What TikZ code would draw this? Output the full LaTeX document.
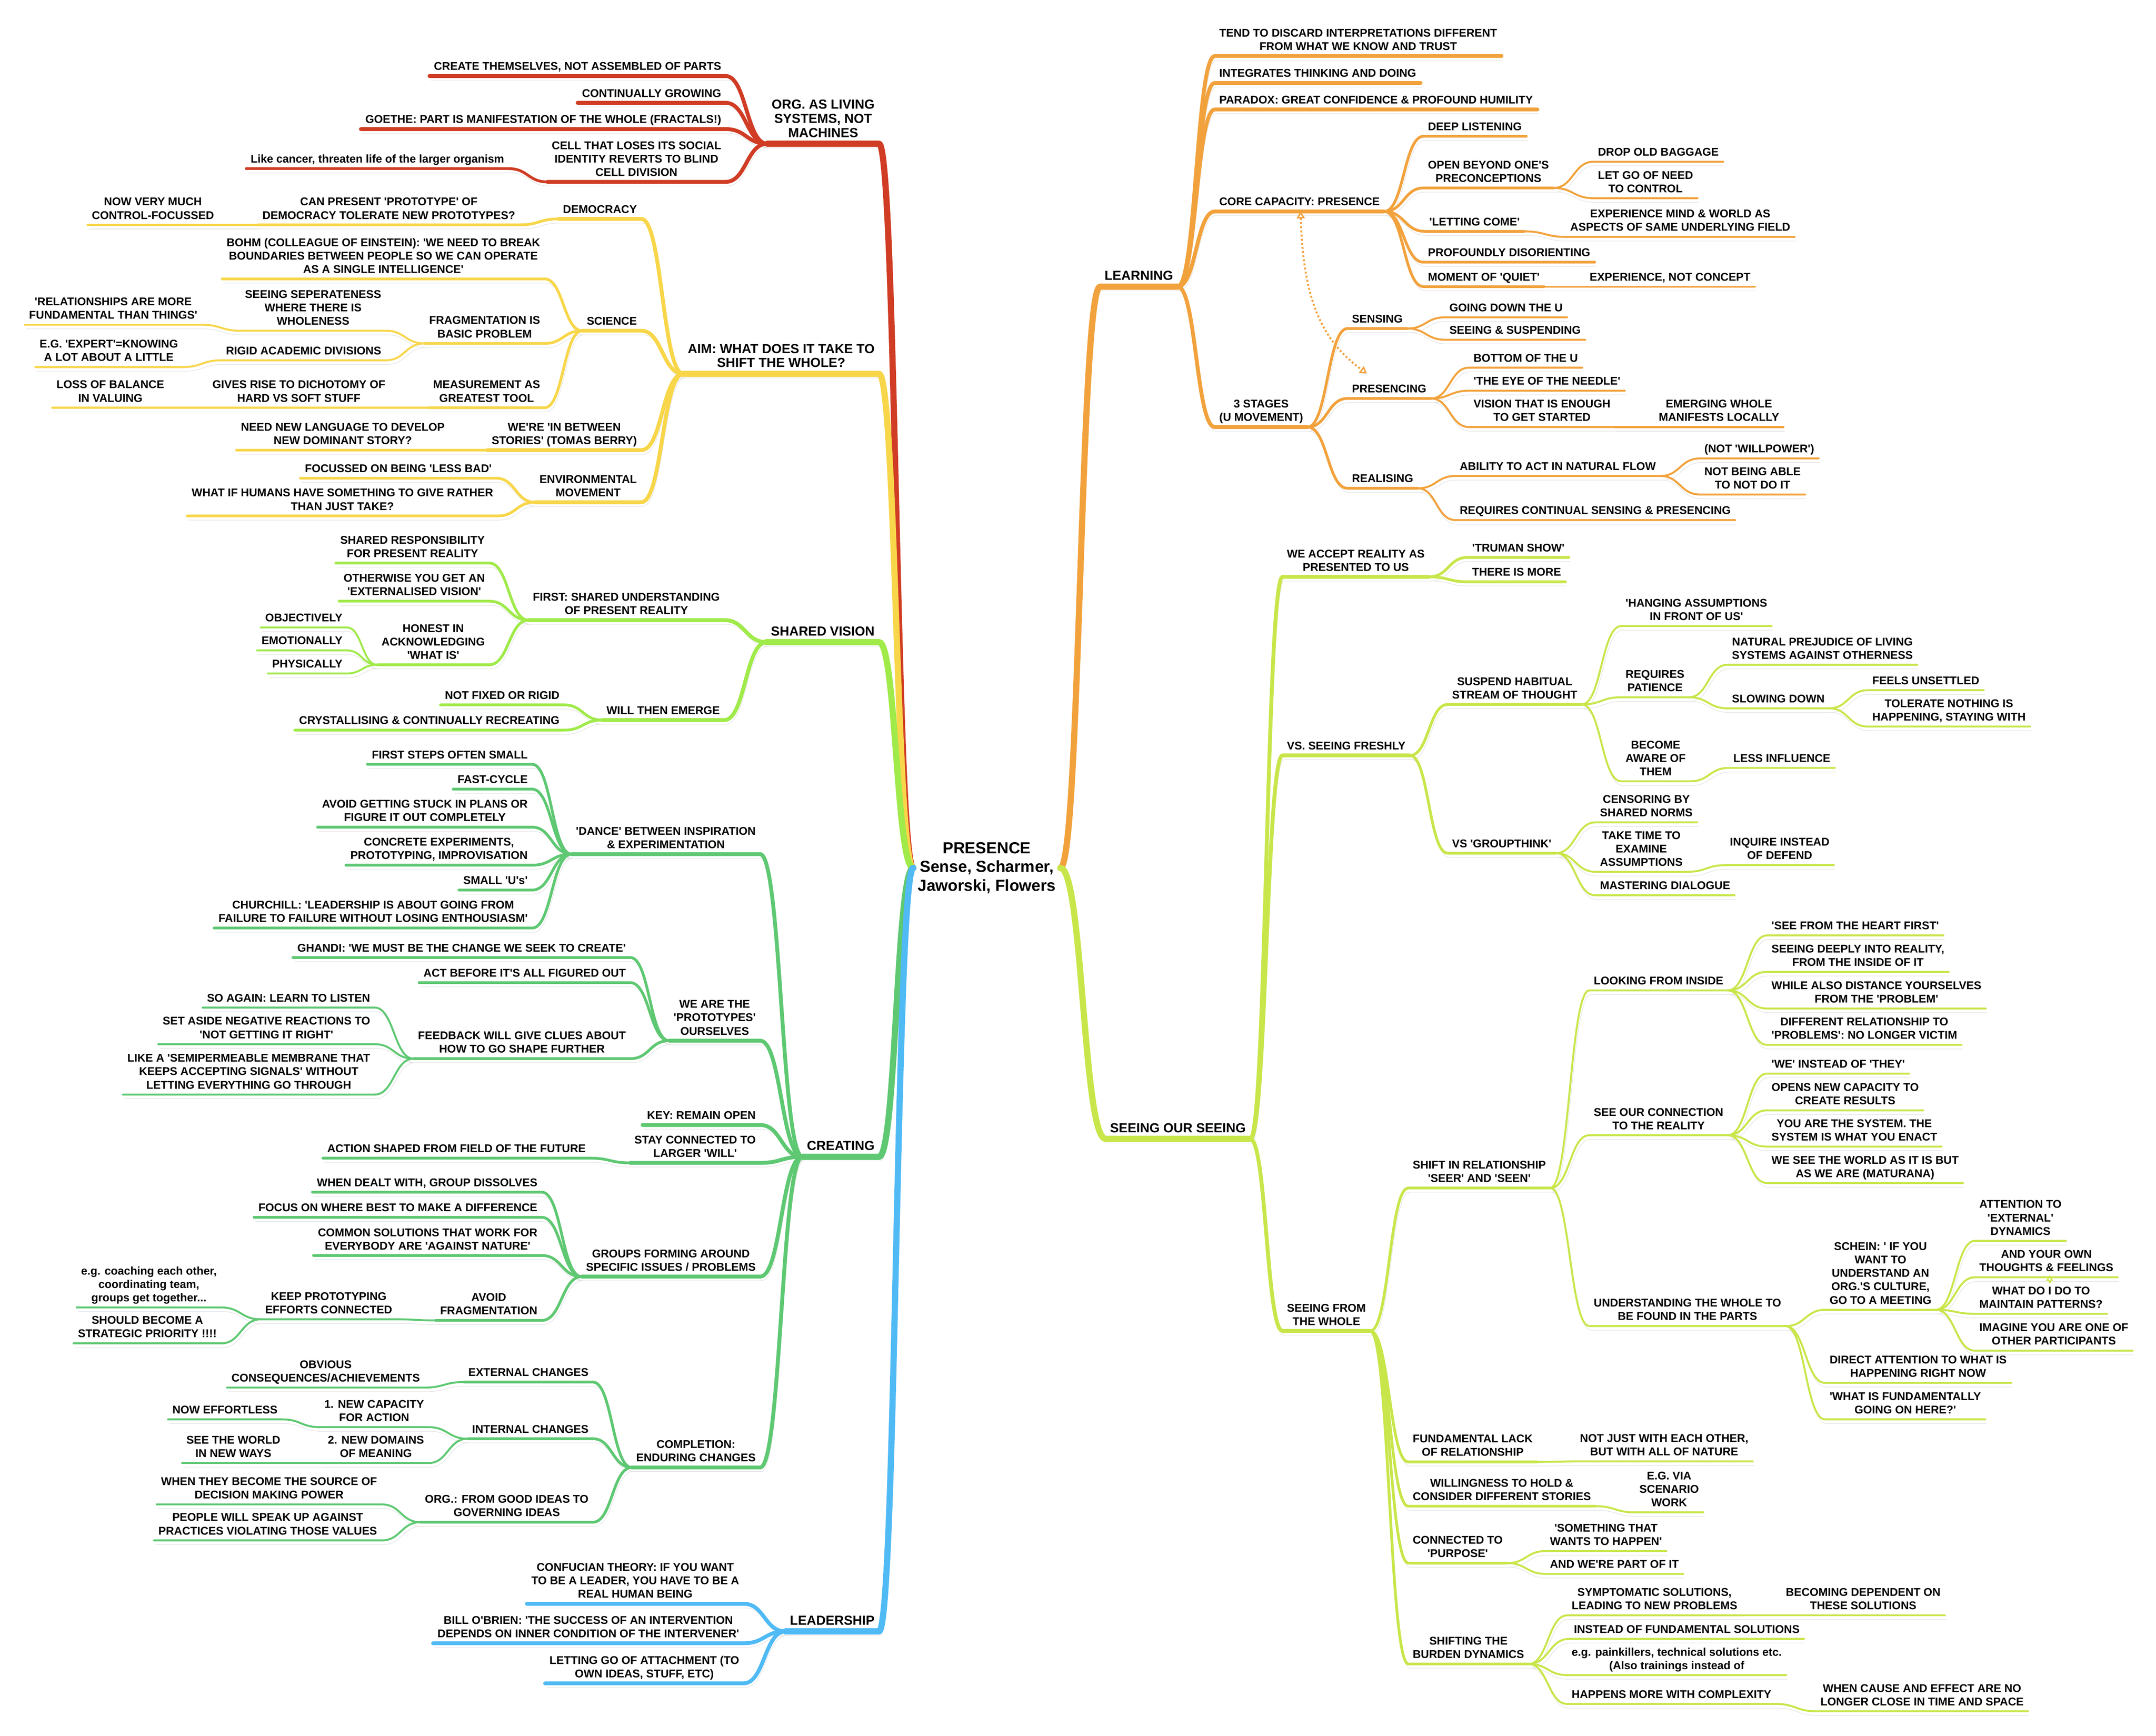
\documentclass[tikz,border=0pt]{standalone}
\usepackage{fontspec}
\usepackage{tikz}
\usetikzlibrary{calc}
\usetikzlibrary{arrows.meta}
\newfontfamily\mmsans{Liberation Sans}
\newcommand{\mmtext}{\mmsans\bfseries\fontsize{8.15}{9.7}\selectfont}
\newcommand{\mmtitle}{\mmsans\bfseries\fontsize{9.5}{10.2}\selectfont}
\newcommand{\mmcenter}{\mmsans\bfseries\fontsize{11.6}{13.5}\selectfont}
\definecolor{cRed}{RGB}{208,60,36}
\definecolor{cYel}{RGB}{248,214,74}
\definecolor{cLime}{RGB}{160,234,74}
\definecolor{cGrn}{RGB}{94,200,114}
\definecolor{cBlu}{RGB}{80,186,245}
\definecolor{cOra}{RGB}{242,162,60}
\definecolor{cSee}{RGB}{200,230,74}
\tikzset{
  mm/.style={font=\mmtext, inner xsep=3pt, inner ysep=2.5pt, text depth=1.5pt, align=center},
  rtopic/.style={mm, anchor=south west},
  ltopic/.style={mm, anchor=south east},
  rtitle/.style={rtopic, font=\mmtitle, text depth=2pt},
  ltitle/.style={ltopic, font=\mmtitle, text depth=2pt},
  mmcurve/.style={to path={let \p1=(\tikztostart), \p2=(\tikztotarget) in
    .. controls ({(\x1+\x2)/2},\y1) and ({(\x1+\x2)/2},\y2) .. (\tikztotarget)}},
  link/.style={line cap=round, line join=round,
    preaction={draw=black!10, transform canvas={shift={(1pt,-3pt)}}}},
  trunk/.style={link, line width=4.5pt},
  w1/.style={link, line width=2.8pt},
  w2/.style={link, line width=2pt},
  w3/.style={link, line width=1.4pt},
  relline/.style={line width=1.4pt, dash pattern=on 1.4pt off 1.6pt},
}
\begin{document}
\begin{tikzpicture}[x=1pt,y=-1pt]
\fill[white] (0,0) rectangle (1560,1255.8);
\useasboundingbox (0,0) rectangle (1560,1255.8);

\node[font=\mmcenter, align=center, inner xsep=3pt] (presence) at (714,628) {PRESENCE\\Sense, Scharmer,\\Jaworski, Flowers};

% org as living systems
\node[ltitle] (org) at (636,104) {ORG. AS LIVING\\SYSTEMS, NOT\\MACHINES};
\node[ltopic] (org1) at (525,55) {CREATE THEMSELVES, NOT ASSEMBLED OF PARTS};
\node[ltopic] (org2) at (525,74.4) {CONTINUALLY GROWING};
\node[ltopic] (org3) at (525,93.4) {GOETHE: PART IS MANIFESTATION OF THE WHOLE (FRACTALS!)};
\node[ltopic] (org4) at (525,131.6) {CELL THAT LOSES ITS SOCIAL\\IDENTITY REVERTS TO BLIND\\CELL DIVISION};
\node[ltopic] (org41) at (368,122) {Like cancer, threaten life of the larger organism};
\draw[trunk,cRed] (presence.west) to[mmcurve] (org.south east) -- (org.south west);
\draw[w1,cRed] (org.south west) to[mmcurve] (org1.south east) -- (org1.south west);
\draw[w1,cRed] (org.south west) to[mmcurve] (org2.south east) -- (org2.south west);
\draw[w1,cRed] (org.south west) to[mmcurve] (org3.south east) -- (org3.south west);
\draw[w1,cRed] (org.south west) to[mmcurve] (org4.south east) -- (org4.south west);
\draw[w2,cRed] (org4.south west) to[mmcurve] (org41.south east) -- (org41.south west);

% aim
\node[ltitle] (aim) at (636,270.5) {AIM: WHAT DOES IT TAKE TO\\SHIFT THE WHOLE?};
\node[ltopic] (dem) at (464,158.4) {DEMOCRACY};
\node[ltopic] (dem1) at (376,162.7) {CAN PRESENT 'PROTOTYPE' OF\\DEMOCRACY TOLERATE NEW PROTOTYPES?};
\node[ltopic] (dem11) at (158,162.7) {NOW VERY MUCH\\CONTROL-FOCUSSED};
\node[ltopic] (sci) at (464,239.3) {SCIENCE};
\node[ltopic] (sci1) at (394,201.8) {BOHM (COLLEAGUE OF EINSTEIN): 'WE NEED TO BREAK\\BOUNDARIES BETWEEN PEOPLE SO WE CAN OPERATE\\AS A SINGLE INTELLIGENCE'};
\node[ltopic] (sci2) at (394,248.5) {FRAGMENTATION IS\\BASIC PROBLEM};
\node[ltopic] (sci21) at (279,239.3) {SEEING SEPERATENESS\\WHERE THERE IS\\WHOLENESS};
\node[ltopic] (sci211) at (146,235) {'RELATIONSHIPS ARE MORE\\FUNDAMENTAL THAN THINGS'};
\node[ltopic] (sci22) at (279,260.7) {RIGID ACADEMIC DIVISIONS};
\node[ltopic] (sci221) at (132,265.6) {E.G. 'EXPERT'=KNOWING\\A LOT ABOUT A LITTLE};
\node[ltopic] (sci3) at (394,295) {MEASUREMENT AS\\GREATEST TOOL};
\node[ltopic] (sci31) at (282,295) {GIVES RISE TO DICHOTOMY OF\\HARD VS SOFT STUFF};
\node[ltopic] (sci311) at (122,295) {LOSS OF BALANCE\\IN VALUING};
\node[ltopic] (story) at (464,325.7) {WE'RE 'IN BETWEEN\\STORIES' (TOMAS BERRY)};
\node[ltopic] (story1) at (325,325.7) {NEED NEW LANGUAGE TO DEVELOP\\NEW DOMINANT STORY?};
\node[ltopic] (env) at (464,363.4) {ENVIRONMENTAL\\MOVEMENT};
\node[ltopic] (env1) at (359,346) {FOCUSSED ON BEING 'LESS BAD'};
\node[ltopic] (env2) at (360,373.3) {WHAT IF HUMANS HAVE SOMETHING TO GIVE RATHER\\THAN JUST TAKE?};
\draw[trunk,cYel] (presence.west) to[mmcurve] (aim.south east) -- (aim.south west);
\draw[w1,cYel] (aim.south west) to[mmcurve] (dem.south east) -- (dem.south west);
\draw[w2,cYel] (dem.south west) to[mmcurve] (dem1.south east) -- (dem1.south west);
\draw[w3,cYel] (dem1.south west) to[mmcurve] (dem11.south east) -- (dem11.south west);
\draw[w1,cYel] (aim.south west) to[mmcurve] (sci.south east) -- (sci.south west);
\draw[w2,cYel] (sci.south west) to[mmcurve] (sci1.south east) -- (sci1.south west);
\draw[w2,cYel] (sci.south west) to[mmcurve] (sci2.south east) -- (sci2.south west);
\draw[w3,cYel] (sci2.south west) to[mmcurve] (sci21.south east) -- (sci21.south west);
\draw[w3,cYel] (sci21.south west) to[mmcurve] (sci211.south east) -- (sci211.south west);
\draw[w3,cYel] (sci2.south west) to[mmcurve] (sci22.south east) -- (sci22.south west);
\draw[w3,cYel] (sci22.south west) to[mmcurve] (sci221.south east) -- (sci221.south west);
\draw[w2,cYel] (sci.south west) to[mmcurve] (sci3.south east) -- (sci3.south west);
\draw[w3,cYel] (sci3.south west) to[mmcurve] (sci31.south east) -- (sci31.south west);
\draw[w3,cYel] (sci31.south west) to[mmcurve] (sci311.south east) -- (sci311.south west);
\draw[w1,cYel] (aim.south west) to[mmcurve] (story.south east) -- (story.south west);
\draw[w2,cYel] (story.south west) to[mmcurve] (story1.south east) -- (story1.south west);
\draw[w1,cYel] (aim.south west) to[mmcurve] (env.south east) -- (env.south west);
\draw[w2,cYel] (env.south west) to[mmcurve] (env1.south east) -- (env1.south west);
\draw[w2,cYel] (env.south west) to[mmcurve] (env2.south east) -- (env2.south west);

% shared vision
\node[ltitle] (sv) at (636,464.6) {SHARED VISION};
\node[ltopic] (sv1) at (524,448.7) {FIRST: SHARED UNDERSTANDING\\OF PRESENT REALITY};
\node[ltopic] (sv11) at (354,407.4) {SHARED RESPONSIBILITY\\FOR PRESENT REALITY};
\node[ltopic] (sv12) at (354,435) {OTHERWISE YOU GET AN\\'EXTERNALISED VISION'};
\node[ltopic] (sv13) at (354,481) {HONEST IN\\ACKNOWLEDGING\\'WHAT IS'};
\node[ltopic] (sv131) at (251,454) {OBJECTIVELY};
\node[ltopic] (sv132) at (251,470.6) {EMOTIONALLY};
\node[ltopic] (sv133) at (251,487.3) {PHYSICALLY};
\node[ltopic] (sv2) at (524,521) {WILL THEN EMERGE};
\node[ltopic] (sv21) at (408,510) {NOT FIXED OR RIGID};
\node[ltopic] (sv22) at (408,528.3) {CRYSTALLISING \& CONTINUALLY RECREATING};
\draw[trunk,cLime] (presence.west) to[mmcurve] (sv.south east) -- (sv.south west);
\draw[w1,cLime] (sv.south west) to[mmcurve] (sv1.south east) -- (sv1.south west);
\draw[w2,cLime] (sv1.south west) to[mmcurve] (sv11.south east) -- (sv11.south west);
\draw[w2,cLime] (sv1.south west) to[mmcurve] (sv12.south east) -- (sv12.south west);
\draw[w2,cLime] (sv1.south west) to[mmcurve] (sv13.south east) -- (sv13.south west);
\draw[w3,cLime] (sv13.south west) to[mmcurve] (sv131.south east) -- (sv131.south west);
\draw[w3,cLime] (sv13.south west) to[mmcurve] (sv132.south east) -- (sv132.south west);
\draw[w3,cLime] (sv13.south west) to[mmcurve] (sv133.south east) -- (sv133.south west);
\draw[w1,cLime] (sv.south west) to[mmcurve] (sv2.south east) -- (sv2.south west);
\draw[w2,cLime] (sv2.south west) to[mmcurve] (sv21.south east) -- (sv21.south west);
\draw[w2,cLime] (sv2.south west) to[mmcurve] (sv22.south east) -- (sv22.south west);

% creating
\node[ltitle] (cre) at (636,837) {CREATING};
\node[ltopic] (cre1) at (550,618) {'DANCE' BETWEEN INSPIRATION\\\& EXPERIMENTATION};
\node[ltopic] (cre11) at (385,553) {FIRST STEPS OFTEN SMALL};
\node[ltopic] (cre12) at (385,571) {FAST-CYCLE};
\node[ltopic] (cre13) at (385,598.5) {AVOID GETTING STUCK IN PLANS OR\\FIGURE IT OUT COMPLETELY};
\node[ltopic] (cre14) at (385,626) {CONCRETE EXPERIMENTS,\\PROTOTYPING, IMPROVISATION};
\node[ltopic] (cre15) at (385,644) {SMALL 'U's'};
\node[ltopic] (cre16) at (385,671.5) {CHURCHILL: 'LEADERSHIP IS ABOUT GOING FROM\\FAILURE TO FAILURE WITHOUT LOSING ENTHOUSIASM'};
\node[ltopic] (cre2) at (550,753) {WE ARE THE\\'PROTOTYPES'\\OURSELVES};
\node[ltopic] (cre21) at (456,692.8) {GHANDI: 'WE MUST BE THE CHANGE WE SEEK TO CREATE'};
\node[ltopic] (cre22) at (456,711) {ACT BEFORE IT'S ALL FIGURED OUT};
\node[ltopic] (cre23) at (456,766) {FEEDBACK WILL GIVE CLUES ABOUT\\HOW TO GO SHAPE FURTHER};
\node[ltopic] (cre231) at (271,729) {SO AGAIN: LEARN TO LISTEN};
\node[ltopic] (cre232) at (271,755.5) {SET ASIDE NEGATIVE REACTIONS TO\\'NOT GETTING IT RIGHT'};
\node[ltopic] (cre233) at (271,792) {LIKE A 'SEMIPERMEABLE MEMBRANE THAT\\KEEPS ACCEPTING SIGNALS' WITHOUT\\LETTING EVERYTHING GO THROUGH};
\node[ltopic] (cre3) at (550,814) {KEY: REMAIN OPEN};
\node[ltopic] (cre4) at (550,841.4) {STAY CONNECTED TO\\LARGER 'WILL'};
\node[ltopic] (cre41) at (427,838) {ACTION SHAPED FROM FIELD OF THE FUTURE};
\node[ltopic] (cre5) at (550,923.7) {GROUPS FORMING AROUND\\SPECIFIC ISSUES / PROBLEMS};
\node[ltopic] (cre51) at (392,862.6) {WHEN DEALT WITH, GROUP DISSOLVES};
\node[ltopic] (cre52) at (392,880.8) {FOCUS ON WHERE BEST TO MAKE A DIFFERENCE};
\node[ltopic] (cre53) at (392,908.4) {COMMON SOLUTIONS THAT WORK FOR\\EVERYBODY ARE 'AGAINST NATURE'};
\node[ltopic] (cre54) at (392,955.4) {AVOID\\FRAGMENTATION};
\node[ltopic] (cre541) at (287,954.6) {KEEP PROTOTYPING\\EFFORTS CONNECTED};
\node[ltopic] (cre5411) at (160,946) {e.g. coaching each other,\\coordinating team,\\groups get together...};
\node[ltopic] (cre5412) at (160,972) {SHOULD BECOME A\\STRATEGIC PRIORITY !!!!};
\node[ltopic] (cre6) at (550,1061.8) {COMPLETION:\\ENDURING CHANGES};
\node[ltopic] (cre61) at (429,1000) {EXTERNAL CHANGES};
\node[ltopic] (cre611) at (307,1004) {OBVIOUS\\CONSEQUENCES/ACHIEVEMENTS};
\node[ltopic] (cre62) at (429,1041) {INTERNAL CHANGES};
\node[ltopic] (cre621) at (310,1032.6) {1. NEW CAPACITY\\FOR ACTION};
\node[ltopic] (cre6211) at (204,1027) {NOW EFFORTLESS};
\node[ltopic] (cre622) at (310,1058.6) {2. NEW DOMAINS\\OF MEANING};
\node[ltopic] (cre6221) at (206,1058.6) {SEE THE WORLD\\IN NEW WAYS};
\node[ltopic] (cre63) at (429,1101.4) {ORG.: FROM GOOD IDEAS TO\\GOVERNING IDEAS};
\node[ltopic] (cre631) at (276,1088.5) {WHEN THEY BECOME THE SOURCE OF\\DECISION MAKING POWER};
\node[ltopic] (cre632) at (276,1114.6) {PEOPLE WILL SPEAK UP AGAINST\\PRACTICES VIOLATING THOSE VALUES};
\draw[trunk,cGrn] (presence.west) to[mmcurve] (cre.south east) -- (cre.south west);
\draw[w1,cGrn] (cre.south west) to[mmcurve] (cre1.south east) -- (cre1.south west);
\draw[w2,cGrn] (cre1.south west) to[mmcurve] (cre11.south east) -- (cre11.south west);
\draw[w2,cGrn] (cre1.south west) to[mmcurve] (cre12.south east) -- (cre12.south west);
\draw[w2,cGrn] (cre1.south west) to[mmcurve] (cre13.south east) -- (cre13.south west);
\draw[w2,cGrn] (cre1.south west) to[mmcurve] (cre14.south east) -- (cre14.south west);
\draw[w2,cGrn] (cre1.south west) to[mmcurve] (cre15.south east) -- (cre15.south west);
\draw[w2,cGrn] (cre1.south west) to[mmcurve] (cre16.south east) -- (cre16.south west);
\draw[w1,cGrn] (cre.south west) to[mmcurve] (cre2.south east) -- (cre2.south west);
\draw[w2,cGrn] (cre2.south west) to[mmcurve] (cre21.south east) -- (cre21.south west);
\draw[w2,cGrn] (cre2.south west) to[mmcurve] (cre22.south east) -- (cre22.south west);
\draw[w2,cGrn] (cre2.south west) to[mmcurve] (cre23.south east) -- (cre23.south west);
\draw[w3,cGrn] (cre23.south west) to[mmcurve] (cre231.south east) -- (cre231.south west);
\draw[w3,cGrn] (cre23.south west) to[mmcurve] (cre232.south east) -- (cre232.south west);
\draw[w3,cGrn] (cre23.south west) to[mmcurve] (cre233.south east) -- (cre233.south west);
\draw[w1,cGrn] (cre.south west) to[mmcurve] (cre3.south east) -- (cre3.south west);
\draw[w1,cGrn] (cre.south west) to[mmcurve] (cre4.south east) -- (cre4.south west);
\draw[w2,cGrn] (cre4.south west) to[mmcurve] (cre41.south east) -- (cre41.south west);
\draw[w1,cGrn] (cre.south west) to[mmcurve] (cre5.south east) -- (cre5.south west);
\draw[w2,cGrn] (cre5.south west) to[mmcurve] (cre51.south east) -- (cre51.south west);
\draw[w2,cGrn] (cre5.south west) to[mmcurve] (cre52.south east) -- (cre52.south west);
\draw[w2,cGrn] (cre5.south west) to[mmcurve] (cre53.south east) -- (cre53.south west);
\draw[w2,cGrn] (cre5.south west) to[mmcurve] (cre54.south east) -- (cre54.south west);
\draw[w3,cGrn] (cre54.south west) to[mmcurve] (cre541.south east) -- (cre541.south west);
\draw[w3,cGrn] (cre541.south west) to[mmcurve] (cre5411.south east) -- (cre5411.south west);
\draw[w3,cGrn] (cre541.south west) to[mmcurve] (cre5412.south east) -- (cre5412.south west);
\draw[w1,cGrn] (cre.south west) to[mmcurve] (cre6.south east) -- (cre6.south west);
\draw[w2,cGrn] (cre6.south west) to[mmcurve] (cre61.south east) -- (cre61.south west);
\draw[w3,cGrn] (cre61.south west) to[mmcurve] (cre611.south east) -- (cre611.south west);
\draw[w2,cGrn] (cre6.south west) to[mmcurve] (cre62.south east) -- (cre62.south west);
\draw[w3,cGrn] (cre62.south west) to[mmcurve] (cre621.south east) -- (cre621.south west);
\draw[w3,cGrn] (cre621.south west) to[mmcurve] (cre6211.south east) -- (cre6211.south west);
\draw[w3,cGrn] (cre62.south west) to[mmcurve] (cre622.south east) -- (cre622.south west);
\draw[w3,cGrn] (cre622.south west) to[mmcurve] (cre6221.south east) -- (cre6221.south west);
\draw[w2,cGrn] (cre6.south west) to[mmcurve] (cre63.south east) -- (cre63.south west);
\draw[w3,cGrn] (cre63.south west) to[mmcurve] (cre631.south east) -- (cre631.south west);
\draw[w3,cGrn] (cre63.south west) to[mmcurve] (cre632.south east) -- (cre632.south west);

% leadership
\node[ltitle] (lead) at (636,1180.4) {LEADERSHIP};
\node[ltopic] (lead1) at (538,1160.4) {CONFUCIAN THEORY: IF YOU WANT\\TO BE A LEADER, YOU HAVE TO BE A\\REAL HUMAN BEING};
\node[ltopic] (lead2) at (538,1189) {BILL O'BRIEN: 'THE SUCCESS OF AN INTERVENTION\\DEPENDS ON INNER CONDITION OF THE INTERVENER'};
\node[ltopic] (lead3) at (538,1218) {LETTING GO OF ATTACHMENT (TO\\OWN IDEAS, STUFF, ETC)};
\draw[trunk,cBlu] (presence.west) to[mmcurve] (lead.south east) -- (lead.south west);
\draw[w1,cBlu] (lead.south west) to[mmcurve] (lead1.south east) -- (lead1.south west);
\draw[w1,cBlu] (lead.south west) to[mmcurve] (lead2.south east) -- (lead2.south west);
\draw[w1,cBlu] (lead.south west) to[mmcurve] (lead3.south east) -- (lead3.south west);

% learning
\node[rtitle] (learn) at (796,207.4) {LEARNING};
\node[rtopic] (le1) at (879,40.5) {TEND TO DISCARD INTERPRETATIONS DIFFERENT\\FROM WHAT WE KNOW AND TRUST};
\node[rtopic] (le2) at (879,60) {INTEGRATES THINKING AND DOING};
\node[rtopic] (le3) at (879,79.2) {PARADOX: GREAT CONFIDENCE \& PROFOUND HUMILITY};
\node[rtopic] (le4) at (879,153) {CORE CAPACITY: PRESENCE};
\node[rtopic] (le41) at (1030,98.6) {DEEP LISTENING};
\node[rtopic] (le42) at (1030,136) {OPEN BEYOND ONE'S\\PRECONCEPTIONS};
\node[rtopic] (le421) at (1153,117) {DROP OLD BAGGAGE};
\node[rtopic] (le422) at (1153,143.4) {LET GO OF NEED\\TO CONTROL};
\node[rtopic] (le43) at (1031,167.4) {'LETTING COME'};
\node[rtopic] (le431) at (1133,171.4) {EXPERIENCE MIND \& WORLD AS\\ASPECTS OF SAME UNDERLYING FIELD};
\node[rtopic] (le44) at (1030,189.7) {PROFOUNDLY DISORIENTING};
\node[rtopic] (le45) at (1030,207.4) {MOMENT OF 'QUIET'};
\node[rtopic] (le451) at (1147,207.4) {EXPERIENCE, NOT CONCEPT};
\node[rtopic] (le5) at (879,309) {3 STAGES\\(U MOVEMENT)};
\node[rtopic] (le51) at (975,237.7) {SENSING};
\node[rtopic] (le511) at (1045.5,229.6) {GOING DOWN THE U};
\node[rtopic] (le512) at (1045.5,245.8) {SEEING \& SUSPENDING};
\node[rtopic] (le52) at (975,288.3) {PRESENCING};
\node[rtopic] (le521) at (1063,266) {BOTTOM OF THE U};
\node[rtopic] (le522) at (1063,282.7) {'THE EYE OF THE NEEDLE'};
\node[rtopic] (le523) at (1063,309) {VISION THAT IS ENOUGH\\TO GET STARTED};
\node[rtopic] (le5231) at (1197,309) {EMERGING WHOLE\\MANIFESTS LOCALLY};
\node[rtopic] (le53) at (975,353.3) {REALISING};
\node[rtopic] (le531) at (1053,344.4) {ABILITY TO ACT IN NATURAL FLOW};
\node[rtopic] (le5311) at (1230,331.7) {(NOT 'WILLPOWER')};
\node[rtopic] (le5312) at (1230,357.8) {NOT BEING ABLE\\TO NOT DO IT};
\node[rtopic] (le532) at (1053,376.3) {REQUIRES CONTINUAL SENSING \& PRESENCING};
\draw[trunk,cOra] (presence.east) to[mmcurve] (learn.south west) -- (learn.south east);
\draw[w1,cOra] (learn.south east) to[mmcurve] (le1.south west) -- (le1.south east);
\draw[w1,cOra] (learn.south east) to[mmcurve] (le2.south west) -- (le2.south east);
\draw[w1,cOra] (learn.south east) to[mmcurve] (le3.south west) -- (le3.south east);
\draw[w1,cOra] (learn.south east) to[mmcurve] (le4.south west) -- (le4.south east);
\draw[w2,cOra] (le4.south east) to[mmcurve] (le41.south west) -- (le41.south east);
\draw[w2,cOra] (le4.south east) to[mmcurve] (le42.south west) -- (le42.south east);
\draw[w3,cOra] (le42.south east) to[mmcurve] (le421.south west) -- (le421.south east);
\draw[w3,cOra] (le42.south east) to[mmcurve] (le422.south west) -- (le422.south east);
\draw[w2,cOra] (le4.south east) to[mmcurve] (le43.south west) -- (le43.south east);
\draw[w3,cOra] (le43.south east) to[mmcurve] (le431.south west) -- (le431.south east);
\draw[w2,cOra] (le4.south east) to[mmcurve] (le44.south west) -- (le44.south east);
\draw[w2,cOra] (le4.south east) to[mmcurve] (le45.south west) -- (le45.south east);
\draw[w3,cOra] (le45.south east) to[mmcurve] (le451.south west) -- (le451.south east);
\draw[w1,cOra] (learn.south east) to[mmcurve] (le5.south west) -- (le5.south east);
\draw[w2,cOra] (le5.south east) to[mmcurve] (le51.south west) -- (le51.south east);
\draw[w3,cOra] (le51.south east) to[mmcurve] (le511.south west) -- (le511.south east);
\draw[w3,cOra] (le51.south east) to[mmcurve] (le512.south west) -- (le512.south east);
\draw[w2,cOra] (le5.south east) to[mmcurve] (le52.south west) -- (le52.south east);
\draw[w3,cOra] (le52.south east) to[mmcurve] (le521.south west) -- (le521.south east);
\draw[w3,cOra] (le52.south east) to[mmcurve] (le522.south west) -- (le522.south east);
\draw[w3,cOra] (le52.south east) to[mmcurve] (le523.south west) -- (le523.south east);
\draw[w3,cOra] (le523.south east) to[mmcurve] (le5231.south west) -- (le5231.south east);
\draw[w2,cOra] (le5.south east) to[mmcurve] (le53.south west) -- (le53.south east);
\draw[w3,cOra] (le53.south east) to[mmcurve] (le531.south west) -- (le531.south east);
\draw[w3,cOra] (le531.south east) to[mmcurve] (le5311.south west) -- (le5311.south east);
\draw[w3,cOra] (le531.south east) to[mmcurve] (le5312.south west) -- (le5312.south east);
\draw[w3,cOra] (le53.south east) to[mmcurve] (le532.south west) -- (le532.south east);
\draw[relline,cOra,{Triangle[open,length=5pt,width=6pt,line width=1pt]}-{Triangle[open,length=5pt,width=6pt,line width=1pt]}]
  ($(le4.south west)+(62,0)$) .. controls +(2,62) and +(-34,-25) .. ($(le52.south west)+(14,-18)$);

% seeing our seeing
\node[rtitle] (see) at (800,824) {SEEING OUR SEEING};
\node[rtopic] (ss1) at (928,417.4) {WE ACCEPT REALITY AS\\PRESENTED TO US};
\node[rtopic] (ss11) at (1062,403.3) {'TRUMAN SHOW'};
\node[rtopic] (ss12) at (1062,421) {THERE IS MORE};
\node[rtopic] (ss2) at (928,546.6) {VS. SEEING FRESHLY};
\node[rtopic] (ss21) at (1047.5,509.7) {SUSPEND HABITUAL\\STREAM OF THOUGHT};
\node[rtopic] (ss211) at (1173,453) {'HANGING ASSUMPTIONS\\IN FRONT OF US'};
\node[rtopic] (ss212) at (1173,504.5) {REQUIRES\\PATIENCE};
\node[rtopic] (ss2121) at (1250,481) {NATURAL PREJUDICE OF LIVING\\SYSTEMS AGAINST OTHERNESS};
\node[rtopic] (ss2122) at (1250,512.5) {SLOWING DOWN};
\node[rtopic] (ss21221) at (1351.5,499.4) {FEELS UNSETTLED};
\node[rtopic] (ss21222) at (1351.5,525.7) {TOLERATE NOTHING IS\\HAPPENING, STAYING WITH};
\node[rtopic] (ss213) at (1173,565.3) {BECOME\\AWARE OF\\THEM};
\node[rtopic] (ss2131) at (1251,555.6) {LESS INFLUENCE};
\node[rtopic] (ss22) at (1047.5,617.3) {VS 'GROUPTHINK'};
\node[rtopic] (ss221) at (1154.5,595) {CENSORING BY\\SHARED NORMS};
\node[rtopic] (ss222) at (1154.5,630.8) {TAKE TIME TO\\EXAMINE\\ASSUMPTIONS};
\node[rtopic] (ss2221) at (1248.5,626) {INQUIRE INSTEAD\\OF DEFEND};
\node[rtopic] (ss223) at (1154.5,647.8) {MASTERING DIALOGUE};
\node[rtopic] (ss3) at (928,963) {SEEING FROM\\THE WHOLE};
\node[rtopic] (ss31) at (1019,859.6) {SHIFT IN RELATIONSHIP\\'SEER' AND 'SEEN'};
\node[rtopic] (ss311) at (1150,716.6) {LOOKING FROM INSIDE};
\node[rtopic] (ss3111) at (1278.6,676.8) {'SEE FROM THE HEART FIRST'};
\node[rtopic] (ss3112) at (1278.6,703.2) {SEEING DEEPLY INTO REALITY,\\FROM THE INSIDE OF IT};
\node[rtopic] (ss3113) at (1278.6,729.7) {WHILE ALSO DISTANCE YOURSELVES\\FROM THE 'PROBLEM'};
\node[rtopic] (ss3114) at (1278.6,756) {DIFFERENT RELATIONSHIP TO\\'PROBLEMS': NO LONGER VICTIM};
\node[rtopic] (ss312) at (1150,821.4) {SEE OUR CONNECTION\\TO THE REALITY};
\node[rtopic] (ss3121) at (1278.6,776.8) {'WE' INSTEAD OF 'THEY'};
\node[rtopic] (ss3122) at (1278.6,803.4) {OPENS NEW CAPACITY TO\\CREATE RESULTS};
\node[rtopic] (ss3123) at (1278.6,829.6) {YOU ARE THE SYSTEM. THE\\SYSTEM IS WHAT YOU ENACT};
\node[rtopic] (ss3124) at (1278.6,856) {WE SEE THE WORLD AS IT IS BUT\\AS WE ARE (MATURANA)};
\node[rtopic] (ss313) at (1150,959.5) {UNDERSTANDING THE WHOLE TO\\BE FOUND IN THE PARTS};
\node[rtopic] (ss3131) at (1320.6,947.7) {SCHEIN: ' IF YOU\\WANT TO\\UNDERSTAND AN\\ORG.'S CULTURE,\\GO TO A MEETING};
\node[rtopic] (ss31311) at (1429,897.8) {ATTENTION TO\\'EXTERNAL'\\DYNAMICS};
\node[rtopic] (ss31312) at (1429,924.2) {AND YOUR OWN\\THOUGHTS \& FEELINGS};
\node[rtopic] (ss31313) at (1429,950.6) {WHAT DO I DO TO\\MAINTAIN PATTERNS?};
\node[rtopic] (ss31314) at (1429,977.3) {IMAGINE YOU ARE ONE OF\\OTHER PARTICIPANTS};
\node[rtopic] (ss3132) at (1320.6,1000.6) {DIRECT ATTENTION TO WHAT IS\\HAPPENING RIGHT NOW};
\node[rtopic] (ss3133) at (1320.6,1027) {'WHAT IS FUNDAMENTALLY\\GOING ON HERE?'};
\node[rtopic] (ss32) at (1019,1057.8) {FUNDAMENTAL LACK\\OF RELATIONSHIP};
\node[rtopic] (ss321) at (1140,1057.4) {NOT JUST WITH EACH OTHER,\\BUT WITH ALL OF NATURE};
\node[rtopic] (ss33) at (1019,1089.8) {WILLINGNESS TO HOLD \&\\CONSIDER DIFFERENT STORIES};
\node[rtopic] (ss331) at (1183,1094.3) {E.G. VIA\\SCENARIO\\WORK};
\node[rtopic] (ss34) at (1019,1131) {CONNECTED TO\\'PURPOSE'};
\node[rtopic] (ss341) at (1118.3,1122.3) {'SOMETHING THAT\\WANTS TO HAPPEN'};
\node[rtopic] (ss342) at (1118.3,1138.8) {AND WE'RE PART OF IT};
\node[rtopic] (ss35) at (1019,1204) {SHIFTING THE\\BURDEN DYNAMICS};
\node[rtopic] (ss351) at (1134,1168.8) {SYMPTOMATIC SOLUTIONS,\\LEADING TO NEW PROBLEMS};
\node[rtopic] (ss3511) at (1289,1168.8) {BECOMING DEPENDENT ON\\THESE SOLUTIONS};
\node[rtopic] (ss352) at (1135.6,1185.8) {INSTEAD OF FUNDAMENTAL SOLUTIONS};
\node[rtopic] (ss353) at (1134,1212) {e.g. painkillers, technical solutions etc.\\(Also trainings instead of};
\node[rtopic] (ss354) at (1134,1232.9) {HAPPENS MORE WITH COMPLEXITY};
\node[rtopic] (ss3541) at (1314,1238.2) {WHEN CAUSE AND EFFECT ARE NO\\LONGER CLOSE IN TIME AND SPACE};
\draw[trunk,cSee] (presence.east) to[mmcurve] (see.south west) -- (see.south east);
\draw[w1,cSee] (see.south east) to[mmcurve] (ss1.south west) -- (ss1.south east);
\draw[w2,cSee] (ss1.south east) to[mmcurve] (ss11.south west) -- (ss11.south east);
\draw[w2,cSee] (ss1.south east) to[mmcurve] (ss12.south west) -- (ss12.south east);
\draw[w1,cSee] (see.south east) to[mmcurve] (ss2.south west) -- (ss2.south east);
\draw[w2,cSee] (ss2.south east) to[mmcurve] (ss21.south west) -- (ss21.south east);
\draw[w3,cSee] (ss21.south east) to[mmcurve] (ss211.south west) -- (ss211.south east);
\draw[w3,cSee] (ss21.south east) to[mmcurve] (ss212.south west) -- (ss212.south east);
\draw[w3,cSee] (ss212.south east) to[mmcurve] (ss2121.south west) -- (ss2121.south east);
\draw[w3,cSee] (ss212.south east) to[mmcurve] (ss2122.south west) -- (ss2122.south east);
\draw[w3,cSee] (ss2122.south east) to[mmcurve] (ss21221.south west) -- (ss21221.south east);
\draw[w3,cSee] (ss2122.south east) to[mmcurve] (ss21222.south west) -- (ss21222.south east);
\draw[w3,cSee] (ss21.south east) to[mmcurve] (ss213.south west) -- (ss213.south east);
\draw[w3,cSee] (ss213.south east) to[mmcurve] (ss2131.south west) -- (ss2131.south east);
\draw[w2,cSee] (ss2.south east) to[mmcurve] (ss22.south west) -- (ss22.south east);
\draw[w3,cSee] (ss22.south east) to[mmcurve] (ss221.south west) -- (ss221.south east);
\draw[w3,cSee] (ss22.south east) to[mmcurve] (ss222.south west) -- (ss222.south east);
\draw[w3,cSee] (ss222.south east) to[mmcurve] (ss2221.south west) -- (ss2221.south east);
\draw[w3,cSee] (ss22.south east) to[mmcurve] (ss223.south west) -- (ss223.south east);
\draw[w1,cSee] (see.south east) to[mmcurve] (ss3.south west) -- (ss3.south east);
\draw[w2,cSee] (ss3.south east) to[mmcurve] (ss31.south west) -- (ss31.south east);
\draw[w3,cSee] (ss31.south east) to[mmcurve] (ss311.south west) -- (ss311.south east);
\draw[w3,cSee] (ss311.south east) to[mmcurve] (ss3111.south west) -- (ss3111.south east);
\draw[w3,cSee] (ss311.south east) to[mmcurve] (ss3112.south west) -- (ss3112.south east);
\draw[w3,cSee] (ss311.south east) to[mmcurve] (ss3113.south west) -- (ss3113.south east);
\draw[w3,cSee] (ss311.south east) to[mmcurve] (ss3114.south west) -- (ss3114.south east);
\draw[w3,cSee] (ss31.south east) to[mmcurve] (ss312.south west) -- (ss312.south east);
\draw[w3,cSee] (ss312.south east) to[mmcurve] (ss3121.south west) -- (ss3121.south east);
\draw[w3,cSee] (ss312.south east) to[mmcurve] (ss3122.south west) -- (ss3122.south east);
\draw[w3,cSee] (ss312.south east) to[mmcurve] (ss3123.south west) -- (ss3123.south east);
\draw[w3,cSee] (ss312.south east) to[mmcurve] (ss3124.south west) -- (ss3124.south east);
\draw[w3,cSee] (ss31.south east) to[mmcurve] (ss313.south west) -- (ss313.south east);
\draw[w3,cSee] (ss313.south east) to[mmcurve] (ss3131.south west) -- (ss3131.south east);
\draw[w3,cSee] (ss3131.south east) to[mmcurve] (ss31311.south west) -- (ss31311.south east);
\draw[w3,cSee] (ss3131.south east) to[mmcurve] (ss31312.south west) -- (ss31312.south east);
\draw[w3,cSee] (ss3131.south east) to[mmcurve] (ss31313.south west) -- (ss31313.south east);
\draw[w3,cSee] (ss3131.south east) to[mmcurve] (ss31314.south west) -- (ss31314.south east);
\draw[w3,cSee] (ss313.south east) to[mmcurve] (ss3132.south west) -- (ss3132.south east);
\draw[w3,cSee] (ss313.south east) to[mmcurve] (ss3133.south west) -- (ss3133.south east);
\draw[w2,cSee] (ss3.south east) to[mmcurve] (ss32.south west) -- (ss32.south east);
\draw[w3,cSee] (ss32.south east) to[mmcurve] (ss321.south west) -- (ss321.south east);
\draw[w2,cSee] (ss3.south east) to[mmcurve] (ss33.south west) -- (ss33.south east);
\draw[w3,cSee] (ss33.south east) to[mmcurve] (ss331.south west) -- (ss331.south east);
\draw[w2,cSee] (ss3.south east) to[mmcurve] (ss34.south west) -- (ss34.south east);
\draw[w3,cSee] (ss34.south east) to[mmcurve] (ss341.south west) -- (ss341.south east);
\draw[w3,cSee] (ss34.south east) to[mmcurve] (ss342.south west) -- (ss342.south east);
\draw[w2,cSee] (ss3.south east) to[mmcurve] (ss35.south west) -- (ss35.south east);
\draw[w3,cSee] (ss35.south east) to[mmcurve] (ss351.south west) -- (ss351.south east);
\draw[w3,cSee] (ss351.south east) to[mmcurve] (ss3511.south west) -- (ss3511.south east);
\draw[w3,cSee] (ss35.south east) to[mmcurve] (ss352.south west) -- (ss352.south east);
\draw[w3,cSee] (ss35.south east) to[mmcurve] (ss353.south west) -- (ss353.south east);
\draw[w3,cSee] (ss35.south east) to[mmcurve] (ss354.south west) -- (ss354.south east);
\draw[w3,cSee] (ss354.south east) to[mmcurve] (ss3541.south west) -- (ss3541.south east);
\draw[relline,cSee,-{Triangle[open,length=4pt,width=5pt,line width=0.8pt]}]
  ($(ss31313.north west)+(54,0)$) -- ($(ss31312.south west)+(54,-1.5)$);
\end{tikzpicture}
\end{document}
